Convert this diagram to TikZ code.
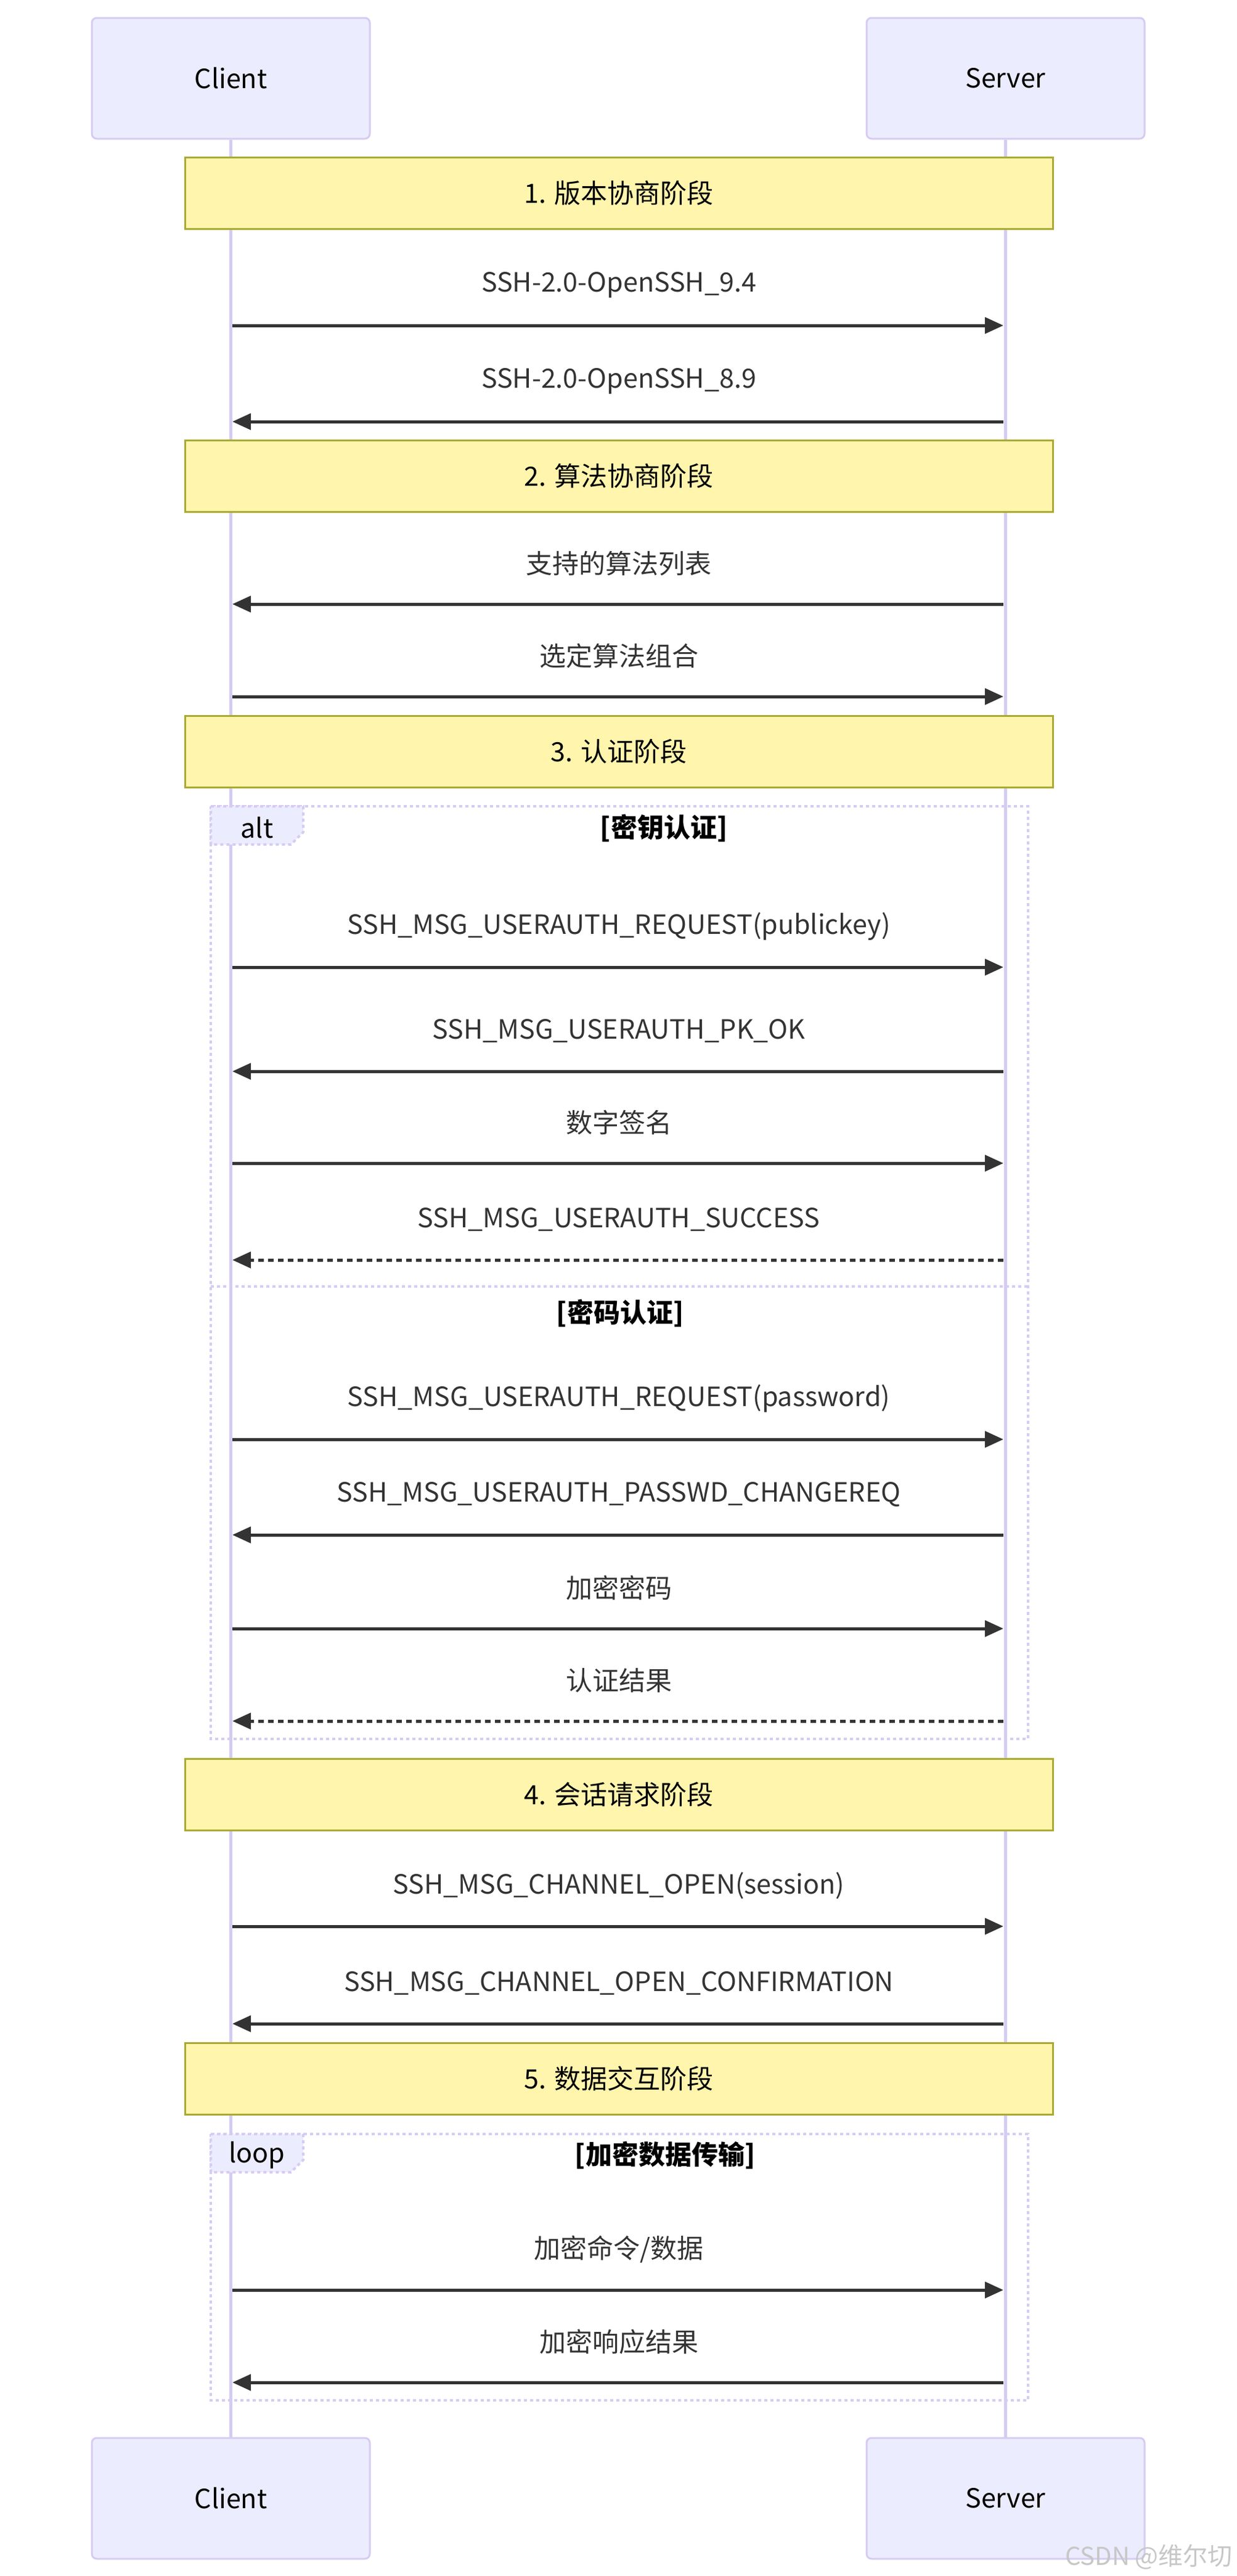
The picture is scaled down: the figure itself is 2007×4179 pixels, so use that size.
\documentclass[tikz,border=0pt]{standalone}
\usepackage{fontspec}
\setmainfont{Noto Sans CJK SC}
\usetikzlibrary{arrows.meta}
\definecolor{actfill}{HTML}{ECECFF}
\definecolor{actdraw}{HTML}{D6CCF2}
\definecolor{notefill}{HTML}{FFF5AD}
\definecolor{notedraw}{HTML}{AAAA33}
\definecolor{msg}{HTML}{333333}
\tikzset{
 actor/.style={draw=actdraw,fill=actfill,line width=3pt,rounded corners=8pt,minimum width=451pt,minimum height=196pt,font=\fontsize{43}{50}\selectfont,inner sep=0pt},
 notebox/.style={draw=notedraw,fill=notefill,line width=3pt,minimum width=1408pt,minimum height=116pt,font=\fontsize{43}{50}\selectfont,inner sep=0pt},
 lbl/.style={font=\fontsize{43}{50}\selectfont,text=msg,inner sep=0pt},
 cond/.style={font=\fontsize{43}{50}\selectfont\bfseries,text=black,inner sep=0pt},
 msgline/.style={draw=msg,line width=5pt,-{Triangle[length=30pt,width=26pt]}},
 reply/.style={msgline,dash pattern=on 9pt off 7pt},
 frame/.style={draw=actdraw,line width=4pt,dash pattern=on 5pt off 5pt},
 lifeline/.style={draw=actdraw,line width=5pt}
}
\begin{document}
\begin{tikzpicture}[x=1pt,y=-1pt]
\useasboundingbox[fill=white] (0,0) rectangle (2007,4179);
\node[actor] (ct) at (374.5,127) {Client};
\node[actor] (st) at (1631.5,127) {Server};
\node[actor] (cb) at (374.5,4053) {Client};
\node[actor] (sb) at (1631.5,4053) {Server};
\draw[lifeline] (ct.south) -- (cb.north);
\draw[lifeline] (st.south) -- (sb.north);
% frames
\draw[frame] (342,1308) rectangle (1668,2821);
\draw[frame] (342,2087) -- (1668,2087);
\draw[frame,fill=actfill] (342,1308) -- (492,1308) -- (492,1350) -- (472,1370) -- (342,1370) -- cycle;
\node[lbl,text=black] (altl) at (417,1343) {alt};
\node[cond] (altc1) at (1077,1343) {[密钥认证]};
\node[cond] (altc2) at (1006,2130) {[密码认证]};
\draw[frame] (342,3462) rectangle (1668,3894);
\draw[frame,fill=actfill] (342,3462) -- (492,3462) -- (492,3504) -- (472,3524) -- (342,3524) -- cycle;
\node[lbl,text=black] (loopl) at (417,3496) {loop};
\node[cond] (loopc) at (1079,3496) {[加密数据传输]};
% notes
\node[notebox] (n1) at (1004,313) {1. 版本协商阶段};
\node[notebox] (n2) at (1004,772) {2. 算法协商阶段};
\node[notebox] (n3) at (1004,1219) {3. 认证阶段};
\node[notebox] (n4) at (1004,2911) {4. 会话请求阶段};
\node[notebox] (n5) at (1004,3372) {5. 数据交互阶段};
% messages: y, direction, label
\foreach \i/\y/\d/\t/\s in {
 1/528/r/{SSH-2.0-OpenSSH\_9.4}/msgline,
 2/684/l/{SSH-2.0-OpenSSH\_8.9}/msgline,
 3/980/l/{支持的算法列表}/msgline,
 4/1130/r/{选定算法组合}/msgline,
 5/1569/r/{SSH\_MSG\_USERAUTH\_REQUEST(publickey)}/msgline,
 6/1738/l/{SSH\_MSG\_USERAUTH\_PK\_OK}/msgline,
 7/1887/r/{数字签名}/msgline,
 8/2044/l/{SSH\_MSG\_USERAUTH\_SUCCESS}/reply,
 9/2335/r/{SSH\_MSG\_USERAUTH\_REQUEST(password)}/msgline,
 10/2490/l/{SSH\_MSG\_USERAUTH\_PASSWD\_CHANGEREQ}/msgline,
 11/2642/r/{加密密码}/msgline,
 12/2792/l/{认证结果}/reply,
 13/3125/r/{SSH\_MSG\_CHANNEL\_OPEN(session)}/msgline,
 14/3283/l/{SSH\_MSG\_CHANNEL\_OPEN\_CONFIRMATION}/msgline,
 15/3715/r/{加密命令/数据}/msgline,
 16/3865/l/{加密响应结果}/msgline}{
 \coordinate (c\i) at (377,\y);
 \coordinate (s\i) at (1628,\y);
 \if r\d \draw[\s] (c\i) -- (s\i); \else \draw[\s] (s\i) -- (c\i); \fi
 \node[lbl] (m\i) at (1004,\y-66) {\t};
}
\node[font=\fontsize{40}{46}\selectfont,text=black!22,anchor=east,inner sep=0pt] (wm) at (2000,4148) {CSDN @维尔切};
\end{tikzpicture}
\end{document}
